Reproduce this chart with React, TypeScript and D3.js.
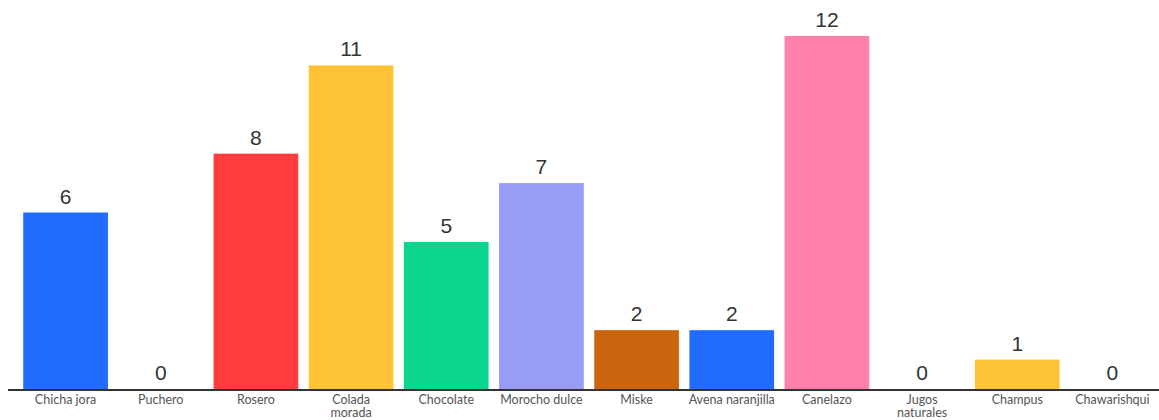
import React from "react";
import * as d3 from "d3";

const categories = [
  "Chicha jora",
  "Puchero",
  "Rosero",
  "Colada\nmorada",
  "Chocolate",
  "Morocho dulce",
  "Miske",
  "Avena naranjilla",
  "Canelazo",
  "Jugos\nnaturales",
  "Champus",
  "Chawarishqui",
];
const values = [6, 0, 8, 11, 5, 7, 2, 2, 12, 0, 1, 0];
const colors = [
  "#1f6cff",
  "#1f6cff",
  "#ff3c3c",
  "#ffc336",
  "#0bd68e",
  "#999cf4",
  "#cb650d",
  "#1f6cff",
  "#ff80aa",
  "#ff80aa",
  "#ffc336",
  "#ffc336",
];

const W = 1159;
const H = 420;

export default function App() {
  const x = d3
    .scaleBand<string>()
    .domain(categories)
    .range([18, 1160])
    .paddingInner(0.11)
    .paddingOuter(0.055);
  const y = d3.scaleLinear().domain([0, 12]).range([389, 36]);

  return (
    <svg
      width={W}
      height={H}
      style={{ position: "absolute", left: 0, top: 0, background: "#fff" }}
    >
      {categories.map((c, i) => {
        const bx = x(c)!;
        const bw = x.bandwidth();
        const top = y(values[i]);
        return (
          <g key={c}>
            {values[i] > 0 && (
              <rect x={bx} y={top} width={bw} height={y(0) - top} fill={colors[i]} />
            )}
            <text
              x={bx + bw / 2}
              y={top - 9}
              textAnchor="middle"
              fontFamily="Liberation Sans, Arial, sans-serif"
              fontSize={21}
              fill="#333"
            >
              {values[i]}
            </text>
            <text
              x={bx + bw / 2}
              y={404}
              textAnchor="middle"
              fontFamily="Lato, Noto Sans, sans-serif"
              fontSize={12.5}
              fill="#555"
            >
              {c.split("\n").map((line, k) => (
                <tspan key={k} x={bx + bw / 2} dy={k === 0 ? 0 : 13}>
                  {line}
                </tspan>
              ))}
            </text>
          </g>
        );
      })}
      <line x1={8} x2={W} y1={390} y2={390} stroke="#333" strokeWidth={2} />
    </svg>
  );
}
